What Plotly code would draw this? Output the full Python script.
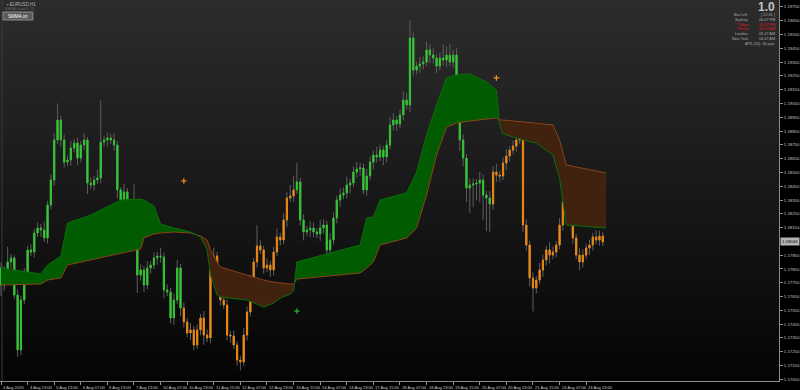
import plotly.graph_objects as go

# ---------------- data (EURUSD, H2-sampled bars) ----------------
first_open = 1.17857
closes = [
1.17734, 1.17843, 1.17901, 1.17930, 1.17661, 1.17263, 1.17625, 1.17806, 1.17988, 1.17973,
1.18111, 1.18147, 1.18133, 1.18075, 1.18314, 1.18495, 1.18785, 1.18930, 1.18785, 1.18625,
1.18640, 1.18727, 1.18763, 1.18654, 1.18749, 1.18785, 1.18473, 1.18459, 1.18495, 1.18510,
1.18770, 1.18785, 1.18800, 1.18785, 1.18749, 1.18423, 1.18350, 1.18408, 1.18314, 1.18241,
1.18314, 1.17806, 1.17843, 1.17734, 1.17857, 1.17879, 1.17930, 1.17944, 1.17937, 1.17698,
1.17683, 1.17495, 1.17625, 1.17857, 1.17567, 1.17466, 1.17386, 1.17408, 1.17299, 1.17408,
1.17495, 1.17371, 1.17350, 1.17857, 1.17944, 1.17770, 1.17625, 1.17589, 1.17371, 1.17364,
1.17299, 1.17190, 1.17176, 1.17371, 1.17538, 1.17748, 1.17901, 1.18017, 1.17988, 1.17857,
1.17879, 1.17843, 1.17973, 1.18082, 1.18060, 1.18205, 1.18365, 1.18379, 1.18423, 1.18481,
1.18205, 1.18118, 1.18133, 1.18147, 1.18118, 1.18104, 1.18147, 1.18169, 1.17988, 1.18060,
1.18220, 1.18350, 1.18386, 1.18401, 1.18459, 1.18473, 1.18553, 1.18575, 1.18582, 1.18423,
1.18524, 1.18625, 1.18676, 1.18662, 1.18712, 1.18662, 1.18749, 1.18894, 1.18930, 1.18901,
1.18966, 1.19075, 1.19039, 1.19524, 1.19292, 1.19321, 1.19336, 1.19350, 1.19438, 1.19401,
1.19379, 1.19321, 1.19379, 1.19365, 1.19401, 1.19350, 1.19401, 1.19039, 1.18785, 1.18654,
1.18437, 1.18459, 1.18466, 1.18473, 1.18495, 1.18386, 1.18365, 1.18321, 1.18553, 1.18531,
1.18524, 1.18618, 1.18669, 1.18712, 1.18741, 1.18785, 1.18800, 1.18169, 1.18024, 1.17785,
1.17712, 1.17770, 1.17843, 1.17915, 1.17988, 1.17951, 1.17973, 1.18024, 1.18169, 1.18336,
1.18423, 1.18241, 1.18075, 1.17951, 1.17901, 1.17951, 1.18002, 1.18024, 1.18082, 1.18060,
1.18089, 1.18046]

# wick extensions beyond the body, in pips
wick_up_pips = [
4,3,11,3,2,4,3,5,3,4, 3,4,3,6,3,4,5,12,3,4, 3,5,3,4,3,5,2,4,3,6,
30,3,4,3,5,3,2,6,3,4, 15,3,4,3,5,3,4,3,6,3, 4,3,5,6,3,4,3,5,3,4,
3,5,4,3,6,3,4,3,4,3, 4,3,3,5,4,6,3,15,4,3, 5,3,4,6,3,5,4,8,10,14,
3,4,3,5,4,3,6,4,3,5, 4,3,5,4,6,3,4,5,4,3, 5,4,3,6,4,3,4,6,5,3,
4,6,5,13,4,3,5,4,6,4, 5,3,4,10,6,8,4,5,3,4, 3,5,4,3,6,4,3,5,4,6,
3,4,5,3,4,6,5,3,4,3, 4,3,5,4,3,6,4,3,5,4, 5,3,4,3,5,4,3,4,3,5,4,3]
wick_dn_pips = [
8,4,3,5,3,5,4,3,4,3, 4,3,5,3,4,3,4,3,5,4, 3,4,3,5,3,4,8,3,4,3,
4,3,5,3,4,6,4,3,5,4, 3,13,4,5,3,4,3,5,4,6, 3,4,5,3,6,4,3,5,4,3,
4,7,3,4,3,5,4,3,4,5, 3,4,6,3,4,3,5,4,3,4, 3,5,4,3,4,3,5,3,4,3,
4,6,3,5,4,3,5,4,16,4, 3,4,5,3,4,6,3,4,5,3, 4,3,5,4,3,6,4,3,4,5,
3,4,3,5,4,3,5,4,3,6, 4,5,3,4,5,3,4,3,8,6, 10,18,16,12,14,18,24,20,4,5,
4,3,5,4,3,4,3,5,4,6, 17,4,3,5,4,6,3,4,3,4, 3,5,4,3,6,4,3,5,4,3,4,3]

# trend colouring of candle bodies (bar index where each trend starts)
trend_starts = [0, 55, 89, 148]
trend_dirs = ["up", "down", "up", "down"]

# moving-average cloud (bar index, fast line, slow line)
band_idx = [0,12,14,18,20,27,36,42,43,46,48,52,57,60,62,63,65,66,74,79,82,84,87,88,89,
            108,110,112,114,122,125,128,131,134,137,141,146,149,150,151,157,161,166,168,170,182]
band_fast = [1.17857,1.17814,1.17879,1.17944,1.18183,1.18241,1.18350,1.18357,1.18350,1.18307,
             1.18176,1.18147,1.18118,1.18082,1.17988,1.17806,1.17661,1.17647,1.17625,1.17574,
             1.17603,1.17639,1.17668,1.17690,1.17901,1.18024,1.18220,1.18227,1.18350,1.18401,
             1.18553,1.18821,1.19039,1.19235,1.19256,1.19264,1.19206,1.19148,1.18894,1.18829,
             1.18785,1.18763,1.18676,1.18510,1.18169,1.18147]
band_slow = [1.17734,1.17741,1.17770,1.17785,1.17879,1.17915,1.17966,1.17995,1.18075,1.18104,
             1.18111,1.18118,1.18111,1.18089,1.18060,1.17988,1.17901,1.17864,1.17806,1.17770,
             1.17755,1.17748,1.17741,1.17741,1.17777,1.17821,1.17857,1.17901,1.18024,1.18075,
             1.18147,1.18386,1.18676,1.18879,1.18908,1.18923,1.18937,1.18945,1.18930,1.18930,
             1.18916,1.18908,1.18894,1.18785,1.18604,1.18546]

# signal crosses
sig_idx = [55, 89, 149]
sig_price = [1.18488, 1.17545, 1.19235]
sig_kind = ["sell", "buy", "sell"]

x_labels = ["4 Aug 2020","4 Aug 23:00","5 Aug 15:00","6 Aug 07:00","6 Aug 23:00","7 Aug 15:00",
            "10 Aug 07:00","10 Aug 23:00","11 Aug 15:00","12 Aug 07:00","12 Aug 23:00","13 Aug 15:00",
            "14 Aug 07:00","14 Aug 23:00","17 Aug 15:00","18 Aug 07:00","18 Aug 23:00","19 Aug 15:00",
            "20 Aug 07:00","20 Aug 23:00","21 Aug 15:00","24 Aug 07:00","24 Aug 23:00"]
bars_per_label = 8

info_labels = ["Bar Left", "Sydney", "* Tokyo", "* Berlin", "London", "New York"]
info_values = ["[ 12:41 ]", "06:47 PM", "05:47 PM", "10:47 AM", "09:47 AM", "04:47 AM"]
info_red = [False, False, True, True, False, False]
atr_text = "ATR (20): 34 pips"

# ---------------- derived ----------------
PIP = 0.0001
n = len(closes)
idx = list(range(n))
opens = [first_open] + closes[:-1]
highs = [max(o, c) + u * PIP for o, c, u in zip(opens, closes, wick_up_pips)]
lows = [min(o, c) - d * PIP for o, c, d in zip(opens, closes, wick_dn_pips)]

trend = []
for i in idx:
    k = max(j for j, s in enumerate(trend_starts) if s <= i)
    trend.append(trend_dirs[k])

W, H = 800, 390
PL, PR, PT, PB = 0, 19, 0, 9
PW, PH = W - PL - PR, H - PT - PB
Y0, Y1 = 1.17038, 1.19800
FONT = "Liberation Sans"

def px(x):
    return x / PW

def py(y):
    return 1 - y / PH

fig = go.Figure()

# ---- cloud fills ----
def runs(ix, f, s):
    out = []
    cur = {"x": [ix[0]], "f": [f[0]], "s": [s[0]], "up": f[0] >= s[0]}
    for k in range(1, len(ix)):
        d0 = f[k - 1] - s[k - 1]
        d1 = f[k] - s[k]
        up1 = d1 >= 0
        if up1 != cur["up"] and d0 != d1:
            t = d0 / (d0 - d1)
            xc = ix[k - 1] + t * (ix[k] - ix[k - 1])
            yc = f[k - 1] + t * (f[k] - f[k - 1])
            cur["x"].append(xc); cur["f"].append(yc); cur["s"].append(yc)
            out.append(cur)
            cur = {"x": [xc], "f": [yc], "s": [yc], "up": up1}
        cur["x"].append(ix[k]); cur["f"].append(f[k]); cur["s"].append(s[k])
    out.append(cur)
    return out

for r in runs(band_idx, band_fast, band_slow):
    fig.add_trace(go.Scatter(
        x=r["x"] + r["x"][::-1], y=r["f"] + r["s"][::-1],
        fill="toself", fillcolor="#015c01" if r["up"] else "#41220f",
        line=dict(width=0), mode="lines", hoverinfo="skip", showlegend=False))

fig.add_trace(go.Scatter(x=band_idx, y=band_slow, mode="lines",
                         line=dict(color="#8a4318", width=1), hoverinfo="skip", showlegend=False))
fig.add_trace(go.Scatter(x=band_idx, y=band_fast, mode="lines",
                         line=dict(color="#0c6e0c", width=1), hoverinfo="skip", showlegend=False))

# ---- wicks (grey) ----
grey = "#5e5e5e"
fig.add_trace(go.Candlestick(
    x=idx, open=opens, high=highs, low=lows, close=closes,
    increasing=dict(line=dict(color=grey, width=1), fillcolor=grey),
    decreasing=dict(line=dict(color=grey, width=1), fillcolor=grey),
    whiskerwidth=0, hoverinfo="skip", showlegend=False))

# ---- bodies coloured by trend ----
for direction, col, fillc in [("up", "#2fc22f", "#44dd44"), ("down", "#e8850f", "#ff9d25")]:
    sel = [i for i in idx if trend[i] == direction]
    bo = [opens[i] for i in sel]
    bc = [closes[i] for i in sel]
    fig.add_trace(go.Candlestick(
        x=sel, open=bo, close=bc,
        high=[max(o, c) for o, c in zip(bo, bc)], low=[min(o, c) for o, c in zip(bo, bc)],
        increasing=dict(line=dict(color=col, width=1), fillcolor=fillc),
        decreasing=dict(line=dict(color=col, width=1), fillcolor=fillc),
        whiskerwidth=0, hoverinfo="skip", showlegend=False))

# ---- signals ----
fig.add_trace(go.Scatter(
    x=sig_idx, y=sig_price, mode="markers",
    marker=dict(symbol="cross-thin", size=4,
                line=dict(width=1.2, color=["#ff9020" if k == "sell" else "#22b022" for k in sig_kind])),
    hoverinfo="skip", showlegend=False))

# ---- background gradient ----
shapes = []
NB = 48
for b in range(NB):
    t = b / (NB - 1)
    c = int(round(44 - 39 * t))
    shapes.append(dict(type="rect", xref="paper", yref="paper", layer="below",
                       x0=0, x1=1, y0=max(0, 1 - (b + 1) / NB - 0.004), y1=1 - b / NB,
                       fillcolor=f"rgb({c},{c},{c})", line=dict(width=0)))
shapes.append(dict(type="line", xref="paper", yref="paper", x0=px(2), x1=px(2), y0=0, y1=1,
                   line=dict(color="#3c3c3c", width=1), layer="below"))
# SMMA button
shapes.append(dict(type="rect", xref="paper", yref="paper", x0=px(3), x1=px(33), y0=py(20), y1=py(12),
                   fillcolor="#5a5a5a", line=dict(color="#8c8c8c", width=1)))

ann = []
for k, lab in enumerate(x_labels):
    ann.append(dict(x=k * bars_per_label, y=-1.5 / PH, xref="x", yref="paper", text=lab,
                    showarrow=False, xanchor="left", yanchor="top", xshift=0,
                    font=dict(family=FONT, size=4.1, color="#c8c8c8")))
# current price label
ann.append(dict(x=1.0, y=closes[-1], xref="paper", yref="y", text=f"{closes[-1]:.5f}",
                showarrow=False, xanchor="left", yanchor="middle", xshift=1,
                bgcolor="#b4b4b4", borderpad=1,
                font=dict(family=FONT, size=4.3, color="#000000")))
# top-left
ann.append(dict(x=px(5), y=py(4), xref="paper", yref="paper", text="▪ EURUSD,H1",
                showarrow=False, xanchor="left", yanchor="middle",
                font=dict(family=FONT, size=4.5, color="#b0b0b0")))
ann.append(dict(x=px(3), y=py(9), xref="paper", yref="paper", text="SMMA cloud 8 / 21",
                showarrow=False, xanchor="left", yanchor="middle",
                font=dict(family=FONT, size=3.5, color="#6a6a6a")))
ann.append(dict(x=px(18), y=py(16), xref="paper", yref="paper", text="SMMA on",
                showarrow=False, xanchor="center", yanchor="middle",
                font=dict(family=FONT, size=4.5, color="#ffffff")))
# top-right info
ann.append(dict(x=px(779), y=py(7.5), xref="paper", yref="paper", text="<b>1.0</b>",
                showarrow=False, xanchor="right", yanchor="middle",
                font=dict(family=FONT, size=12, color="#c4c4c4")))
for k, (lab, val, red) in enumerate(zip(info_labels, info_values, info_red)):
    yy = 15 + k * 4.8
    col = "#e01818" if red else "#a8a8a8"
    ann.append(dict(x=px(752), y=py(yy), xref="paper", yref="paper", text=lab,
                    showarrow=False, xanchor="right", yanchor="middle",
                    font=dict(family=FONT, size=3.8, color=col)))
    ann.append(dict(x=px(779), y=py(yy), xref="paper", yref="paper", text=val,
                    showarrow=False, xanchor="right", yanchor="middle",
                    font=dict(family=FONT, size=3.8, color=col)))
ann.append(dict(x=px(779), y=py(44), xref="paper", yref="paper", text=atr_text,
                showarrow=False, xanchor="right", yanchor="middle",
                font=dict(family=FONT, size=3.8, color="#a8a8a8")))

# price-axis ticks; the 1.18050 level is hidden behind the current-price label
ytv = [round(1.17050 + 0.001 * k, 5) for k in range(28)]
ytv_shown = [v for v in ytv if abs(v - closes[-1]) > 0.0004]

fig.update_layout(
    width=W, height=H, margin=dict(l=PL, r=PR, t=PT, b=PB),
    paper_bgcolor="#000000", plot_bgcolor="#000000",
    shapes=shapes, annotations=ann, showlegend=False,
    boxgap=0.5,
    xaxis=dict(range=[-0.3, 234], tickvals=[k * bars_per_label for k in range(len(x_labels))],
               showticklabels=False, ticks="outside", ticklen=3, tickcolor="#909090",
               showline=True, linecolor="#8a8a8a", linewidth=1, showgrid=False, zeroline=False,
               rangeslider=dict(visible=False), fixedrange=True),
    yaxis=dict(range=[Y0, Y1], side="right", tickvals=ytv_shown,
               ticktext=[f"{v:.5f}" for v in ytv_shown],
               ticks="outside", ticklen=3, tickcolor="#909090",
               tickfont=dict(family=FONT, size=4.3, color="#c8c8c8"),
               showline=True, linecolor="#8a8a8a", linewidth=1, showgrid=False, zeroline=False),
)

fig.write_html("out.html")
